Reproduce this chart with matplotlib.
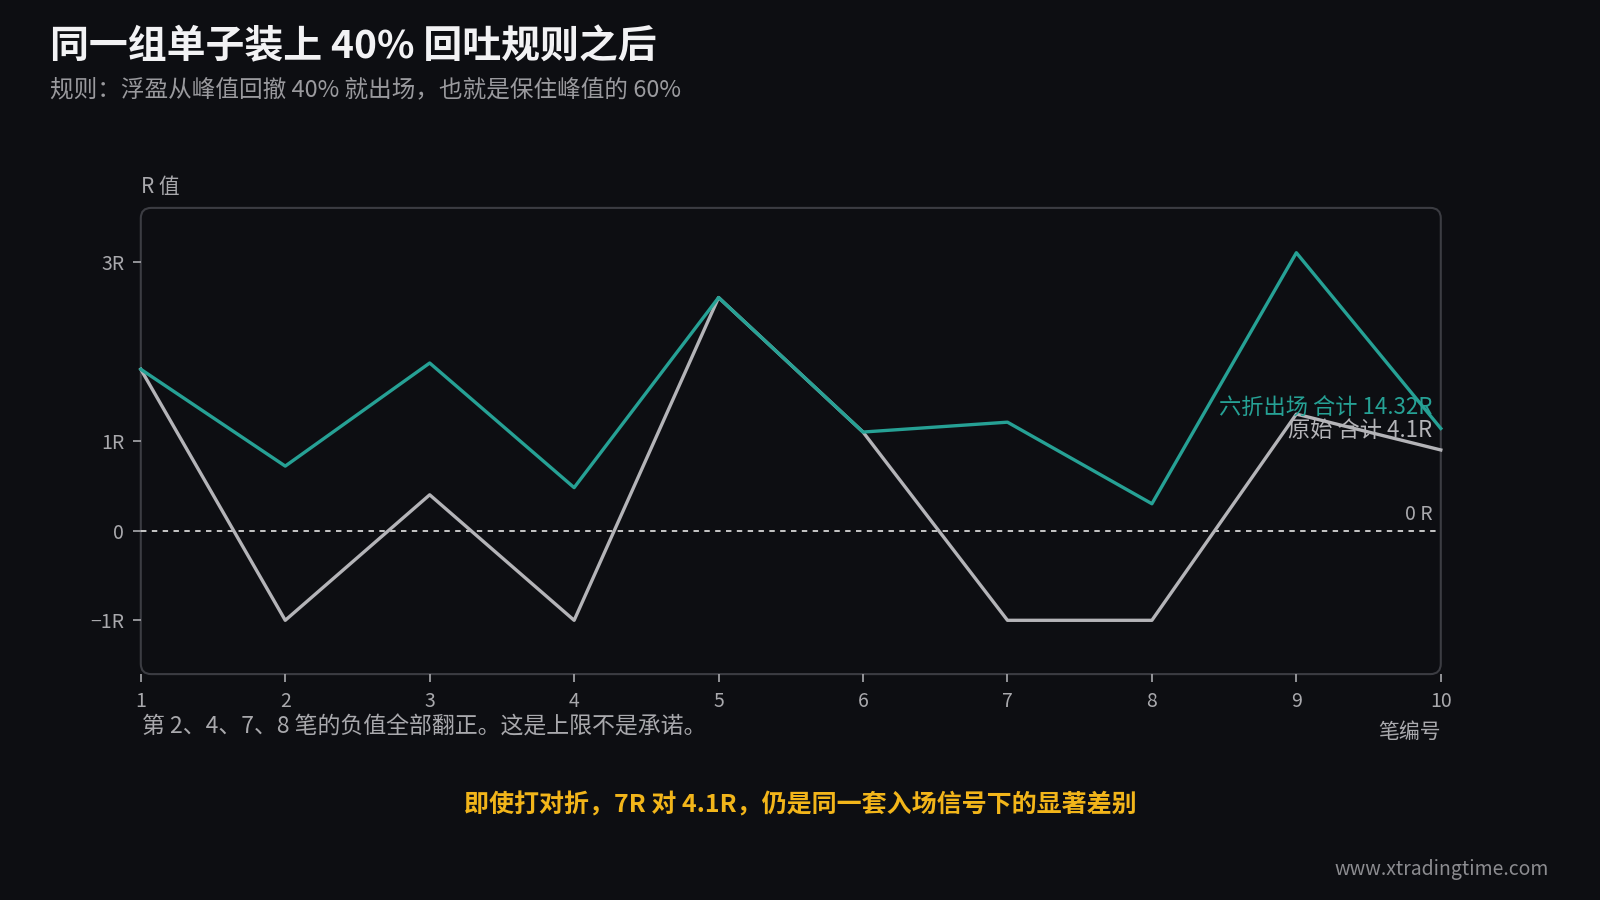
import matplotlib.pyplot as plt
from matplotlib.patches import FancyBboxPatch

plt.rcParams['font.family'] = ['Noto Sans CJK SC', 'DejaVu Sans']

# trade numbers and R values
trades = [1, 2, 3, 4, 5, 6, 7, 8, 9, 10]
r_original = [1.8, -1.0, 0.4, -1.0, 2.6, 1.1, -1.0, -1.0, 1.3, 0.9]
r_sixty = [1.8, 0.72, 1.87, 0.48, 2.6, 1.1, 1.21, 0.3, 3.1, 1.14]
y_ticks = [-1, 0, 1, 3]
y_labels = ['\u22121R', '0', '1R', '3R']

BG = '#0d0e12'
TEAL = '#26a195'
GREY = '#b4b4b8'
TXT = '#a9a9ad'

fig = plt.figure(figsize=(16, 9), dpi=100, facecolor=BG)
ax = fig.add_axes([0.088, 0.251, 0.8125, 0.518])
ax.set_facecolor(BG)

ax.plot(trades, r_sixty, color=TEAL, lw=2.4, zorder=4, clip_on=False)
ax.plot(trades, r_original, color=GREY, lw=2.4, zorder=3, clip_on=False)
ax.axhline(0, color='#d6d6d6', lw=1.3, ls=(0, (3, 3)), zorder=2)

ax.set_xlim(1, 10)
ax.set_ylim(-1.6, 3.6)
ax.set_xticks(trades)
ax.set_yticks(y_ticks)
ax.set_yticklabels(y_labels)
for s in ax.spines.values():
    s.set_visible(False)
ax.tick_params(colors=TXT, labelsize=14, length=6, width=1.2, pad=6)
ax.tick_params(axis='x', pad=6)

# rounded frame
W, H = 0.8125 * 1600, 0.518 * 900
frame = FancyBboxPatch((0, 0), 1, 1, boxstyle='round,pad=0,rounding_size=0.008',
                       mutation_aspect=W / H, transform=ax.transAxes,
                       fill=False, ec='#3b3c42', lw=1.5, zorder=1, clip_on=False)
ax.add_patch(frame)

ax.text(9.94, 1.36, '六折出场 合计 14.32R', color=TEAL, fontsize=16, ha='right', va='center', zorder=5)
ax.text(9.94, 1.12, '原始 合计 4.1R', color=GREY, fontsize=16, ha='right', va='center', zorder=5)
ax.text(9.94, 0.18, '0 R', color=TXT, fontsize=14, ha='right', va='center')

fig.text(0.088, 0.792, 'R 值', color=TXT, fontsize=15, ha='left', va='center')
fig.text(0.9006, 0.187, '笔编号', color=TXT, fontsize=15, ha='right', va='center')
fig.text(0.089, 0.192, '第 2、4、7、8 笔的负值全部翻正。这是上限不是承诺。', color=TXT,
         fontsize=16.5, ha='left', va='center')

fig.text(0.031, 0.948, '同一组单子装上 40% 回吐规则之后', color='#f2f2f4', fontsize=28,
         fontweight='bold', ha='left', va='center')
fig.text(0.031, 0.9, '规则：浮盈从峰值回撤 40% 就出场，也就是保住峰值的 60%', color='#9a9a9e',
         fontsize=17, ha='left', va='center')
fig.text(0.5, 0.106, '即使打对折，7R 对 4.1R，仍是同一套入场信号下的显著差别', color='#f2b51a',
         fontsize=18, fontweight='bold', ha='center', va='center')
fig.text(0.968, 0.034, 'www.xtradingtime.com', color='#8c8c90', fontsize=14, ha='right', va='center')

fig.savefig('out.png', dpi=100, facecolor=BG)
